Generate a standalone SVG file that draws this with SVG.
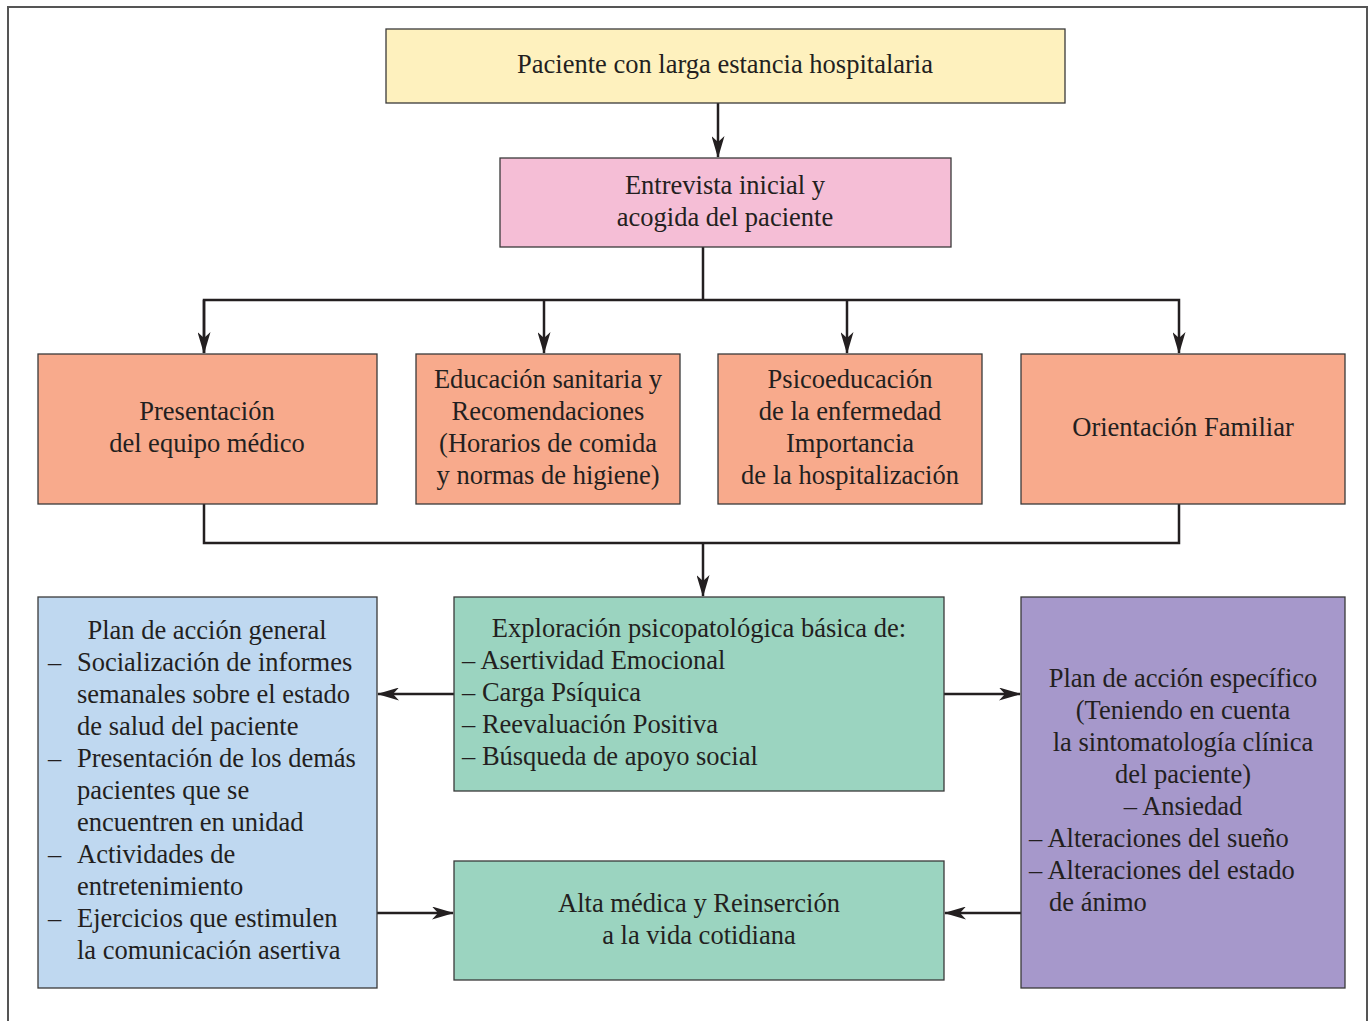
<svg xmlns="http://www.w3.org/2000/svg" width="1370" height="1021" viewBox="0 0 1370 1021">
<style>
.box{stroke:#3a3a3a;stroke-width:1.3}
text{font-family:'Liberation Serif','Times New Roman',serif;font-size:26.5px;fill:#231F20}
.c{text-anchor:middle}
.ln{fill:none;stroke:#231F20;stroke-width:2.5}
</style>
<defs>
<marker id="ah" viewBox="0 0 22 13" refX="21" refY="6.5" markerWidth="22" markerHeight="13" markerUnits="userSpaceOnUse" orient="auto">
<path d="M0,0 L22,6.5 L0,13 L6,6.5 Z" fill="#231F20"/>
</marker>
</defs>
<rect width="1370" height="1021" fill="#fff"/>
<path d="M8,1030 V7 H1367 V1030" fill="none" stroke="#555" stroke-width="2"/>

<g id="connectors">
<path class="ln" d="M718,103 V157" marker-end="url(#ah)"/>
<path class="ln" d="M703,247 V300"/>
<path class="ln" d="M204,353 V300 H1179 V353" marker-end="url(#ah)"/>
<path class="ln" d="M204,300 V353" marker-end="url(#ah)"/>
<path class="ln" d="M544,300 V353" marker-end="url(#ah)"/>
<path class="ln" d="M847,300 V353" marker-end="url(#ah)"/>
<path class="ln" d="M204,504 V543 H1179 V504"/>
<path class="ln" d="M703,543 V596" marker-end="url(#ah)"/>
<path class="ln" d="M454,694 H378" marker-end="url(#ah)"/>
<path class="ln" d="M944,694 H1020" marker-end="url(#ah)"/>
<path class="ln" d="M377,913 H453" marker-end="url(#ah)"/>
<path class="ln" d="M1021,913 H945" marker-end="url(#ah)"/>
</g>

<g id="n1">
<rect class="box" x="386" y="29" width="679" height="74" fill="#FEF1BE"/>
<text class="c" x="725" y="73">Paciente con larga estancia hospitalaria</text>
</g>
<g id="n2">
<rect class="box" x="500" y="158" width="451" height="89" fill="#F5BED6"/>
<text class="c" x="725" y="194">Entrevista inicial y</text>
<text class="c" x="725" y="226">acogida del paciente</text>
</g>
<g id="n3">
<rect class="box" x="38" y="354" width="339" height="150" fill="#F8AA8C"/>
<text class="c" x="207" y="420">Presentación</text>
<text class="c" x="207" y="452">del equipo médico</text>
</g>
<g id="n4">
<rect class="box" x="416" y="354" width="264" height="150" fill="#F8AA8C"/>
<text class="c" x="548" y="388">Educación sanitaria y</text>
<text class="c" x="548" y="420">Recomendaciones</text>
<text class="c" x="548" y="452">(Horarios de comida</text>
<text class="c" x="548" y="484">y normas de higiene)</text>
</g>
<g id="n5">
<rect class="box" x="718" y="354" width="264" height="150" fill="#F8AA8C"/>
<text class="c" x="850" y="388">Psicoeducación</text>
<text class="c" x="850" y="420">de la enfermedad</text>
<text class="c" x="850" y="452">Importancia</text>
<text class="c" x="850" y="484">de la hospitalización</text>
</g>
<g id="n6">
<rect class="box" x="1021" y="354" width="324" height="150" fill="#F8AA8C"/>
<text class="c" x="1183" y="436">Orientación Familiar</text>
</g>
<g id="n7">
<rect class="box" x="454" y="597" width="490" height="194" fill="#9BD4C0"/>
<text class="c" x="699" y="637">Exploración psicopatológica básica de:</text>
<text x="462" y="669">– Asertividad Emocional</text>
<text x="462" y="701">– Carga Psíquica</text>
<text x="462" y="733">– Reevaluación Positiva</text>
<text x="462" y="765">– Búsqueda de apoyo social</text>
</g>
<g id="n8">
<rect class="box" x="38" y="597" width="339" height="391" fill="#BFD8F0"/>
<text class="c" x="207" y="639">Plan de acción general</text>
<text x="48" y="671">–</text><text x="77" y="671">Socialización de informes</text>
<text x="77" y="703">semanales sobre el estado</text>
<text x="77" y="735">de salud del paciente</text>
<text x="48" y="767">–</text><text x="77" y="767">Presentación de los demás</text>
<text x="77" y="799">pacientes que se</text>
<text x="77" y="831">encuentren en unidad</text>
<text x="48" y="863">–</text><text x="77" y="863">Actividades de</text>
<text x="77" y="895">entretenimiento</text>
<text x="48" y="927">–</text><text x="77" y="927">Ejercicios que estimulen</text>
<text x="77" y="959">la comunicación asertiva</text>
</g>
<g id="n9">
<rect class="box" x="1021" y="597" width="324" height="391" fill="#A698CB"/>
<text class="c" x="1183" y="687">Plan de acción específico</text>
<text class="c" x="1183" y="719">(Teniendo en cuenta</text>
<text class="c" x="1183" y="751">la sintomatología clínica</text>
<text class="c" x="1183" y="783">del paciente)</text>
<text class="c" x="1183" y="815">– Ansiedad</text>
<text x="1029" y="847">– Alteraciones del sueño</text>
<text x="1029" y="879">– Alteraciones del estado</text>
<text x="1049" y="911">de ánimo</text>
</g>
<g id="n10">
<rect class="box" x="454" y="861" width="490" height="119" fill="#9BD4C0"/>
<text class="c" x="699" y="912">Alta médica y Reinserción</text>
<text class="c" x="699" y="944">a la vida cotidiana</text>
</g>
</svg>
